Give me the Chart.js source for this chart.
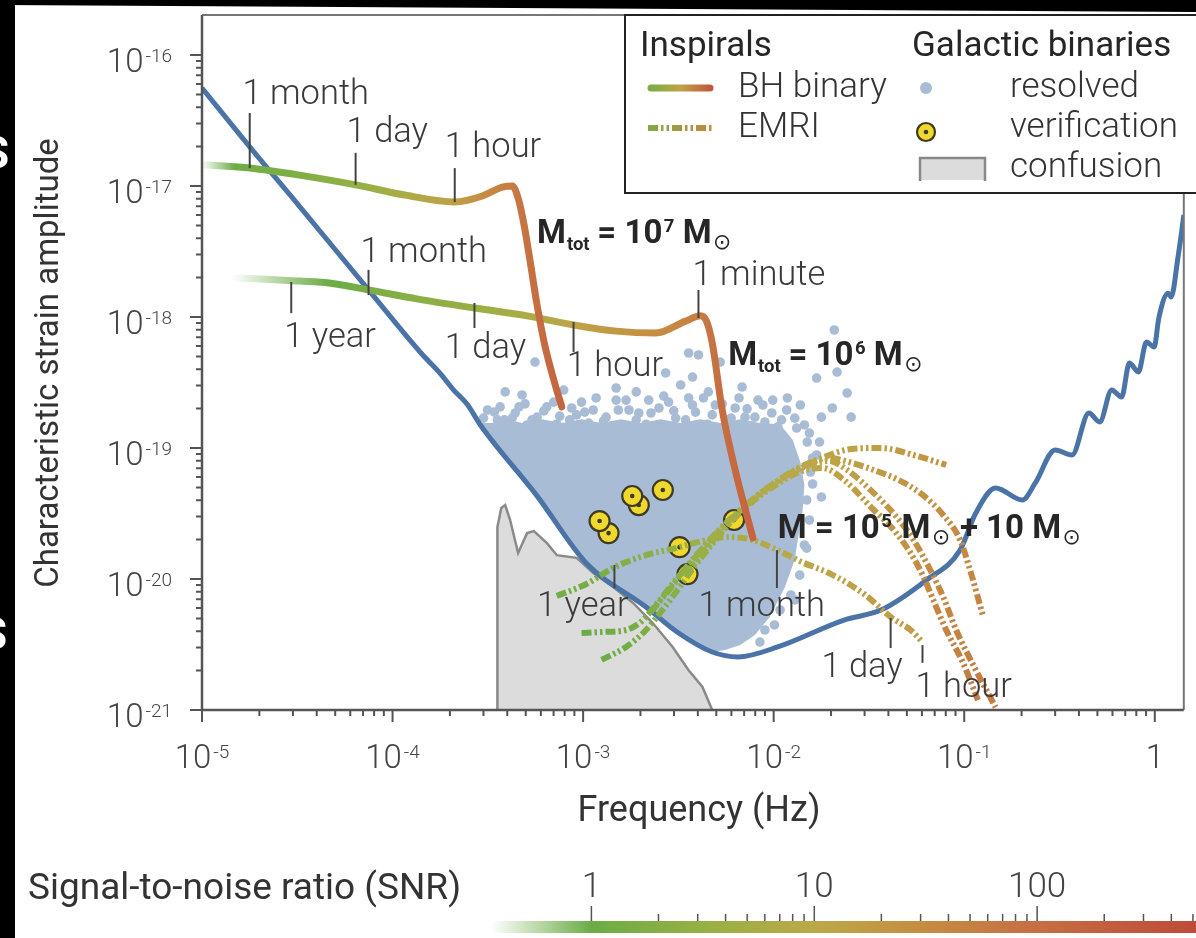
<!DOCTYPE html>
<html>
<head>
<meta charset="utf-8">
<style>
  html, body { margin: 0; padding: 0; background: #fff; }
  canvas { display: block; }
</style>
<script src="https://cdn.jsdelivr.net/npm/chart.js@4.4.0/dist/chart.umd.min.js"></script>
</head>
<body>
<canvas id="c" width="1196" height="938" style="width:1196px;height:938px"></canvas>
<script>
// ---- Instrument sensitivity curve (characteristic strain vs frequency) ----
const sensFreq = [1.00e-5, 1.78e-5, 3.24e-5, 7.48e-5, 1.41e-4, 1.79e-4, 2.07e-4, 2.48e-4, 2.89e-4, 5.73e-4,
  1.04e-3, 2.14e-3, 3.17e-3, 4.76e-3, 6.50e-3, 1.05e-2, 2.34e-2, 3.65e-2, 6.32e-2, 9.51e-2,
  0.115, 0.146, 0.202, 0.236, 0.300, 0.368, 0.451, 0.514, 0.594, 0.670,
  0.736, 0.820, 0.904, 0.993, 1.05, 1.175, 1.219, 1.324, 1.422];
const sensStrain = [5.60e-17, 1.99e-17, 7.03e-18, 1.61e-18, 5.31e-19, 3.67e-19, 2.82e-19, 2.13e-19, 1.50e-19, 4.31e-20,
  1.32e-20, 6.11e-21, 3.87e-21, 2.77e-21, 2.54e-21, 3.03e-21, 4.86e-21, 5.79e-21, 9.80e-21, 1.66e-20,
  3.19e-20, 4.95e-20, 4.01e-20, 5.41e-20, 9.66e-20, 8.85e-20, 1.85e-19, 1.58e-19, 2.77e-19, 2.45e-19,
  4.46e-19, 3.80e-19, 6.44e-19, 5.90e-19, 9.82e-19, 1.52e-18, 1.42e-18, 2.87e-18, 6.01e-18];

// ---- Massive black hole binary inspirals (accumulated SNR along track) ----
const bh7Freq = [1.04e-5, 1.49e-5, 1.78e-5, 3.24e-5, 6.40e-5, 1.16e-4, 2.12e-4, 2.96e-4, 3.77e-4, 4.25e-4,
  4.56e-4, 4.90e-4, 5.26e-4, 5.73e-4, 6.29e-4, 7.02e-4, 7.73e-4];
const bh7Strain = [1.45e-17, 1.40e-17, 1.37e-17, 1.21e-17, 1.02e-17, 8.53e-18, 7.55e-18, 8.39e-18, 9.82e-18, 1.00e-17,
  8.09e-18, 5.04e-18, 2.72e-18, 1.24e-18, 6.11e-19, 3.30e-19, 2.06e-19];
const bh7Snr = [0.4, 1.0, 1.2, 1.8, 3, 6, 14, 30, 50, 60, 70, 80, 90, 100, 120, 140, 150];

const bh6Freq = [1.43e-5, 2.05e-5, 3.24e-5, 4.64e-5, 7.48e-5, 1.36e-4, 2.69e-4, 5.08e-4, 8.91e-4, 1.49e-3,
  2.41e-3, 3.45e-3, 4.13e-3, 4.44e-3, 4.76e-3, 5.37e-3, 6.28e-3, 7.78e-3];
const bh6Strain = [1.99e-18, 1.95e-18, 1.88e-18, 1.82e-18, 1.61e-18, 1.37e-18, 1.17e-18, 1.02e-18, 8.69e-19, 7.80e-19,
  7.55e-19, 9.30e-19, 1.02e-18, 9.31e-19, 6.34e-19, 1.95e-19, 6.79e-20, 2.06e-20];
const bh6Snr = [0.35, 0.5, 0.75, 1.0, 1.5, 2.3, 3.5, 6, 12, 20, 30, 45, 60, 70, 85, 100, 125, 160];

// ---- Extreme mass ratio inspirals ----
const emri1Freq = [7.27e-4, 1.04e-3, 1.46e-3, 2.14e-3, 3.06e-3, 4.23e-3, 5.77e-3, 7.69e-3, 1.05e-2, 1.40e-2,
  2.00e-2, 2.98e-2, 4.11e-2, 5.23e-2, 6.04e-2];
const emri1Strain = [7.42e-21, 9.16e-21, 1.23e-20, 1.52e-20, 1.72e-20, 1.95e-20, 2.09e-20, 1.99e-20, 1.66e-20, 1.35e-20,
  1.09e-20, 7.68e-21, 5.13e-21, 4.08e-21, 3.30e-21];
const emri1Snr = [1.2, 1.4, 1.8, 2.3, 3, 4, 5, 6.5, 8, 10, 12, 14, 15, 16, 16.5];

const emri2Freq = [9.81e-4, 1.25e-3, 1.68e-3, 2.01e-3, 2.41e-3, 3.06e-3, 3.89e-3, 4.94e-3, 6.67e-3, 8.99e-3,
  1.29e-2, 1.84e-2, 2.55e-2, 3.65e-2, 5.42e-2, 8.04e-2];
const emri2Strain = [3.87e-21, 3.94e-21, 4.08e-21, 4.70e-21, 6.33e-21, 9.83e-21, 1.47e-20, 2.21e-20, 3.36e-20, 4.78e-20,
  6.79e-20, 8.54e-20, 9.83e-20, 1.00e-19, 8.84e-20, 7.42e-20];
const emri2Snr = [1.0, 1.1, 1.3, 1.5, 1.9, 2.5, 3.2, 4, 5.5, 7, 9, 11, 13, 16, 20, 24];

const emri3Freq = [1.25e-3, 1.68e-3, 2.09e-3, 2.56e-3, 3.13e-3, 3.89e-3, 4.82e-3, 6.05e-3, 7.97e-3, 1.08e-2,
  1.45e-2, 1.96e-2, 2.49e-2, 3.35e-2, 4.53e-2, 5.96e-2, 7.76e-2, 9.51e-2, 0.1085, 0.125];
const emri3Strain = [2.41e-21, 3.03e-21, 3.94e-21, 5.60e-21, 8.24e-21, 1.28e-20, 1.88e-20, 2.82e-20, 4.15e-20, 5.70e-20,
  7.29e-20, 8.39e-20, 7.82e-20, 6.79e-20, 5.70e-20, 4.46e-20, 3.08e-20, 1.99e-20, 1.11e-20, 5.31e-21];
const emri3Snr = [1.0, 1.2, 1.5, 1.9, 2.4, 3, 3.8, 5, 6.5, 8, 10, 12, 14, 17, 21, 25, 30, 35, 40, 45];

const emri4Freq = [2.27e-3, 2.88e-3, 3.66e-3, 4.65e-3, 6.13e-3, 8.17e-3, 1.11e-2, 1.49e-2, 1.96e-2, 2.43e-2,
  3.35e-2, 4.42e-2, 5.42e-2, 6.64e-2, 7.76e-2, 9.07e-2, 0.115, 0.146];
const emri4Strain = [5.60e-21, 8.53e-21, 1.35e-20, 1.99e-20, 2.97e-20, 4.30e-20, 5.90e-20, 7.29e-20, 7.96e-20, 6.79e-20,
  4.53e-20, 2.97e-20, 1.99e-20, 1.17e-20, 7.29e-21, 4.08e-21, 2.02e-21, 1.05e-21];
const emri4Snr = [1.8, 2.3, 2.9, 3.6, 4.8, 6.2, 8, 10, 12, 14, 18, 23, 28, 34, 40, 46, 54, 60];

const emri5Freq = [3.45e-3, 4.38e-3, 5.70e-3, 7.51e-3, 1.01e-2, 1.37e-2, 1.80e-2, 2.34e-2, 3.24e-2, 4.26e-2,
  5.23e-2, 6.11e-2, 6.88e-2, 8.04e-2, 9.86e-2, 0.118];
const emri5Strain = [1.07e-20, 1.66e-20, 2.54e-20, 3.74e-20, 5.13e-20, 6.56e-20, 7.04e-20, 5.70e-20, 3.54e-20, 2.37e-20,
  1.58e-20, 1.04e-20, 6.92e-21, 4.08e-21, 2.29e-21, 1.19e-21];
const emri5Snr = [2.5, 3.2, 4, 5.3, 7, 9, 11.5, 14, 18, 23, 28, 34, 40, 47, 54, 60];

// ---- Galactic binaries ----
// dense body of resolved binaries (outline of the populated region)
const cloudFreq = [2.79e-4, 3.34e-4, 4.00e-4, 4.78e-4, 6.08e-4, 7.72e-4, 9.81e-4, 1.25e-3, 1.58e-3, 2.01e-3,
  2.56e-3, 3.25e-3, 4.13e-3, 5.25e-3, 6.67e-3, 8.47e-3, 1.08e-2, 1.26e-2, 1.38e-2, 1.45e-2,
  1.42e-2, 1.35e-2, 1.29e-2, 1.14e-2, 9.54e-3, 7.97e-3, 6.67e-3, 5.57e-3, 4.76e-3, 3.17e-3,
  2.14e-3, 1.04e-3, 5.73e-4, 2.89e-4];
const cloudStrain = [1.55e-19, 1.55e-19, 1.66e-19, 1.55e-19, 1.66e-19, 1.55e-19, 1.66e-19, 1.55e-19, 1.66e-19, 1.55e-19,
  1.66e-19, 1.55e-19, 1.66e-19, 1.55e-19, 1.66e-19, 1.55e-19, 1.52e-19, 1.15e-19, 7.82e-20, 5.22e-20,
  3.36e-20, 2.17e-20, 1.40e-20, 8.53e-21, 5.13e-21, 3.73e-21, 3.13e-21, 2.87e-21, 2.77e-21, 3.87e-21,
  6.11e-21, 1.32e-20, 4.31e-20, 1.50e-19];
// individual resolved binaries around the edge of the populated region
const dotFreq = [5.59e-4, 3.90e-4, 3.15e-4, 3.67e-4, 4.61e-4, 7.91e-4, 6.45e-4, 1.49e-3, 2.71e-3, 2.21e-3,
  2.81e-3, 3.58e-3, 4.03e-3, 3.75e-3, 3.25e-3, 3.58e-3, 4.54e-3, 5.24e-3, 6.83e-3, 8.27e-3,
  1.18e-2, 1.68e-2, 2.08e-2, 2.15e-2, 2.03e-2, 1.78e-2, 9.77e-3, 7.07e-3, 1.13e-3, 1.32e-3,
  1.74e-3, 8.50e-4, 5.73e-4, 2.43e-2, 2.55e-2, 3.55e-4, 4.24e-4, 5.08e-4, 7.27e-4, 9.24e-4,
  1.07e-3, 1.41e-3, 1.90e-3, 2.27e-3, 2.47e-3, 3.06e-3, 3.89e-3, 4.49e-3, 5.70e-3, 6.28e-3,
  7.69e-3, 8.99e-3, 1.10e-2, 1.32e-2, 1.50e-2, 1.60e-2, 1.56e-2, 1.74e-2, 1.78e-2, 1.60e-2,
  1.54e-2, 1.49e-2, 1.29e-2, 1.01e-2, 8.47e-3, 1.49e-3, 4.78e-4, 9.81e-4, 4.94e-3, 1.90e-3,
  3.00e-4, 3.42e-4, 3.86e-4, 4.40e-4, 4.96e-4, 5.39e-4, 6.22e-4, 7.02e-4, 7.54e-4, 8.71e-4,
  1.02e-3, 1.17e-3, 1.28e-3, 1.53e-3, 1.68e-3, 1.96e-3, 2.14e-3, 2.50e-3, 2.65e-3, 2.99e-3,
  3.45e-3, 3.75e-3, 4.28e-3, 4.76e-3, 5.37e-3, 5.98e-3, 6.58e-3, 7.25e-3, 7.97e-3, 8.78e-3,
  9.89e-3, 1.05e-2, 1.17e-2, 1.29e-2, 1.38e-2, 1.45e-2, 1.54e-2, 1.68e-2, 1.49e-2, 1.45e-2,
  1.37e-2, 1.23e-2, 1.08e-2, 8.99e-3];
const dotStrain = [4.53e-19, 2.68e-19, 1.95e-19, 2.06e-19, 2.06e-19, 2.77e-19, 2.06e-19, 2.87e-19, 3.74e-19, 2.32e-19,
  2.24e-19, 5.31e-19, 5.13e-19, 3.48e-19, 3.03e-19, 2.41e-19, 2.68e-19, 4.53e-19, 2.92e-19, 2.32e-19,
  2.41e-19, 3.42e-19, 7.96e-19, 3.80e-19, 2.02e-19, 1.72e-19, 1.85e-19, 1.72e-19, 1.95e-19, 1.72e-19,
  1.95e-19, 1.64e-19, 1.72e-19, 2.63e-19, 1.72e-19, 1.64e-19, 1.69e-19, 1.50e-19, 1.52e-19, 1.79e-19,
  1.55e-19, 1.47e-19, 1.64e-19, 1.85e-19, 1.47e-19, 1.69e-19, 1.88e-19, 1.52e-19, 1.64e-19, 2.02e-19,
  1.47e-19, 1.58e-19, 1.64e-19, 1.42e-19, 1.11e-19, 8.39e-20, 6.56e-20, 1.11e-19, 4.23e-20, 5.31e-20,
  2.82e-20, 1.72e-20, 6.92e-21, 4.46e-21, 3.30e-21, 2.32e-19, 2.54e-19, 2.24e-19, 2.13e-19, 2.68e-19,
  1.69e-19, 1.88e-19, 1.64e-19, 1.85e-19, 2.17e-19, 1.64e-19, 1.92e-19, 2.24e-19, 1.75e-19, 2.02e-19,
  1.88e-19, 2.41e-19, 1.61e-19, 1.95e-19, 2.32e-19, 1.85e-19, 1.52e-19, 2.02e-19, 2.49e-19, 1.92e-19,
  1.64e-19, 2.13e-19, 2.41e-19, 1.79e-19, 2.17e-19, 1.69e-19, 2.41e-19, 1.99e-19, 1.72e-19, 2.13e-19,
  2.32e-19, 1.45e-19, 1.95e-19, 1.69e-19, 2.13e-19, 1.50e-19, 1.30e-19, 8.84e-20, 4.01e-20, 1.82e-20,
  1.07e-20, 7.55e-21, 5.80e-21, 4.08e-21];
// verification binaries
const verFreq = [1.36e-3, 1.22e-3, 1.96e-3, 1.81e-3, 2.62e-3, 3.21e-3, 3.53e-3, 6.20e-3];
const verStrain = [2.24e-20, 2.77e-20, 3.67e-20, 4.30e-20, 4.78e-20, 1.75e-20, 1.09e-20, 2.82e-20];
// unresolved confusion foreground
const confFreq = [3.55e-4, 3.55e-4, 3.72e-4, 3.90e-4, 4.14e-4, 4.56e-4, 5.08e-4, 5.52e-4, 6.46e-4, 7.28e-4,
  9.25e-4, 1.13e-3, 1.44e-3, 1.83e-3, 2.32e-3, 2.95e-3, 3.57e-3, 4.23e-3, 4.76e-3];
const confStrain = [1e-21, 2.49e-20, 3.48e-20, 3.67e-20, 2.82e-20, 1.58e-20, 2.24e-20, 2.32e-20, 1.88e-20, 1.52e-20,
  1.45e-20, 1.11e-20, 8.69e-21, 6.56e-21, 4.61e-21, 3.03e-21, 2.02e-21, 1.50e-21, 1e-21];

// ---- Axis ticks ----
const xDecades = [1e-5, 1e-4, 1e-3, 1e-2, 1e-1, 1];
const xTickBase = ['10', '10', '10', '10', '10', '1'];
const xTickExp = ['-5', '-4', '-3', '-2', '-1', ''];
const yDecades = [1e-21, 1e-20, 1e-19, 1e-18, 1e-17, 1e-16];
const yTickExp = ['-21', '-20', '-19', '-18', '-17', '-16'];
const snrMajor = [1, 10, 100];
const snrMajorLabels = ['1', '10', '100'];

// ---- Time-to-merger marks along tracks ----
const timeMarks = [
  { f: 1.78e-5, h0: 3.61e-17, h1: 1.37e-17, text: '1 month', tf: 1.63e-5, th: 4.95e-17 },
  { f: 6.40e-5, h0: 1.79e-17, h1: 1.02e-17, text: '1 day', tf: 5.74e-5, th: 2.54e-17 },
  { f: 2.12e-4, h0: 1.37e-17, h1: 7.55e-18, text: '1 hour', tf: 1.88e-4, th: 1.95e-17 },
  { f: 2.94e-5, h0: 1.85e-18, h1: 1.07e-18, text: '1 year', tf: 2.70e-5, th: 6.92e-19 },
  { f: 7.48e-5, h0: 2.29e-18, h1: 1.47e-18, text: '1 month', tf: 6.79e-5, th: 3.08e-18 },
  { f: 2.69e-4, h0: 1.28e-18, h1: 8.24e-19, text: '1 day', tf: 1.88e-4, th: 5.70e-19 },
  { f: 8.91e-4, h0: 9.16e-19, h1: 5.41e-19, text: '1 hour', tf: 8.21e-4, th: 4.15e-19 },
  { f: 4.03e-3, h0: 1.61e-18, h1: 9.82e-19, text: '1 minute', tf: 3.75e-3, th: 2.06e-18 },
  { f: 1.46e-3, h0: 1.28e-20, h1: 8.53e-21, text: '1 year', tf: 5.73e-4, th: 6.11e-21 },
  { f: 1.04e-2, h0: 1.66e-20, h1: 8.53e-21, text: '1 month', tf: 4.03e-3, th: 6.11e-21 },
  { f: 4.11e-2, h0: 5.04e-21, h1: 2.97e-21, text: '1 day', tf: 1.78e-2, th: 2.09e-21 },
  { f: 6.04e-2, h0: 3.13e-21, h1: 2.29e-21, text: '1 hour', tf: 5.55e-2, th: 1.47e-21 }
];
// mass labels: [text, role] runs
const massLabels = [
  { f: 5.73e-4, h: 4.46e-18, runs: [['M', 'b'], ['tot', 'sub'], ['\u2009= 10', 'b'], ['7', 'sup'], ['\u2009M', 'b'], ['\u2299', 'sun']] },
  { f: 5.77e-3, h: 5.22e-19, runs: [['M', 'b'], ['tot', 'sub'], ['\u2009= 10', 'b'], ['6', 'sup'], ['\u2009M', 'b'], ['\u2299', 'sun']] },
  { f: 1.05e-2, h: 2.49e-20, runs: [['M = 10', 'b'], ['5', 'sup'], [' M', 'b'], ['\u2299', 'sun'], [' + 10 M', 'b'], ['\u2299', 'sun']] }
];

// ---- Styling ----
const FAM = 'Roboto, "DejaVu Sans", sans-serif';
const font = (w, s, fam) => `${w} ${s}px ${fam || FAM}`;
const TEXT = '#3a3a3a';
const CLOUD = '#a9bcd6';
const SENS = '#4a74a8';

// SNR colour map (log10 SNR -> rgba)
const snrStops = [
  [-0.45, [108, 172, 70, 0]],
  [0, [108, 172, 70, 1]],
  [0.5, [150, 176, 68, 1]],
  [1, [188, 168, 72, 1]],
  [1.5, [198, 140, 66, 1]],
  [2, [198, 110, 66, 1]],
  [2.7, [190, 75, 58, 1]]
];
const rgba = c => `rgba(${Math.round(c[0])},${Math.round(c[1])},${Math.round(c[2])},${c[3].toFixed(3)})`;
function snrColor(s) {
  const l = Math.log10(s);
  if (l <= snrStops[0][0]) return rgba(snrStops[0][1]);
  for (let i = 1; i < snrStops.length; i++) {
    if (l <= snrStops[i][0]) {
      const [l0, c0] = snrStops[i - 1];
      const [l1, c1] = snrStops[i];
      const t = (l - l0) / (l1 - l0);
      return rgba(c0.map((v, k) => v + (c1[k] - v) * t));
    }
  }
  return rgba(snrStops[snrStops.length - 1][1]);
}

// horizontal gradient that follows the SNR accumulated along a track
function trackGradient(chart, fs, snr) {
  const xs = chart.scales && chart.scales.x;
  if (!xs || !chart.chartArea) return '#999';
  const x0 = xs.getPixelForValue(fs[0]);
  const x1 = xs.getPixelForValue(fs[fs.length - 1]);
  const g = chart.ctx.createLinearGradient(x0, 0, x1, 0);
  fs.forEach((f, i) => {
    const t = (xs.getPixelForValue(f) - x0) / (x1 - x0);
    g.addColorStop(Math.min(1, Math.max(0, t)), snrColor(snr[i]));
  });
  return g;
}

const pts = (fs, hs) => fs.map((f, i) => ({ x: f, y: hs[i] }));

function bhTrack(fs, hs, snr, order) {
  return {
    data: pts(fs, hs), order,
    borderColor: c => trackGradient(c.chart, fs, snr),
    borderWidth: 7, borderCapStyle: 'round', borderJoinStyle: 'round',
    cubicInterpolationMode: 'monotone', pointRadius: 0, fill: false
  };
}
function emriTrack(fs, hs, snr, order) {
  return {
    data: pts(fs, hs), order,
    borderColor: c => trackGradient(c.chart, fs, snr),
    borderWidth: 6, borderCapStyle: 'butt', borderDash: [10, 3, 2.5, 3, 2.5, 3],
    cubicInterpolationMode: 'monotone', pointRadius: 0, fill: false
  };
}

// draw a run of text pieces with sub/superscripts; y is the baseline
function drawRuns(ctx, runs, x, y, size) {
  let cx = x;
  ctx.textAlign = 'left';
  ctx.textBaseline = 'alphabetic';
  for (const [t, role] of runs) {
    let f, dy = 0, pad = 0;
    if (role === 'b') f = font(700, size);
    else if (role === 'sub') { f = font(700, size * 0.56); dy = size * 0.2; pad = 1; }
    else if (role === 'sup') { f = font(700, size * 0.56); dy = -size * 0.33; pad = 1.5; }
    else { f = font(400, size * 0.66, '"DejaVu Sans", sans-serif'); dy = size * 0.18; pad = 1.5; }
    ctx.font = f;
    ctx.fillText(t, cx + pad, y + dy);
    cx += ctx.measureText(t).width + pad * 2;
  }
}

// "10" with a raised exponent; anchor: 'right' or 'center'
function drawPow(ctx, base, exp, x, baseline, anchor) {
  const bs = 33, es = 19;
  ctx.font = font(300, bs);
  const wb = ctx.measureText(base).width;
  ctx.font = font(300, es);
  const we = exp ? ctx.measureText(exp).width + 2 : 0;
  const total = wb + we;
  const x0 = anchor === 'right' ? x - total : x - total / 2;
  ctx.textAlign = 'left';
  ctx.textBaseline = 'alphabetic';
  ctx.font = font(300, bs);
  ctx.fillText(base, x0, baseline);
  if (exp) {
    ctx.font = font(300, es);
    ctx.fillText(exp, x0 + wb + 2, baseline - 10);
  }
}

const decorations = {
  id: 'decorations',
  afterDatasetsDraw(chart) {
    const { ctx, chartArea: a, scales } = chart;
    const x = scales.x, y = scales.y;
    const px = v => x.getPixelForValue(v);
    const py = v => y.getPixelForValue(v);
    ctx.save();

    // time-to-merger marks
    ctx.strokeStyle = '#444';
    ctx.lineWidth = 2;
    ctx.fillStyle = TEXT;
    ctx.font = font(300, 34.5);
    ctx.textAlign = 'left';
    ctx.textBaseline = 'middle';
    for (const m of timeMarks) {
      ctx.beginPath();
      ctx.moveTo(px(m.f), py(m.h0));
      ctx.lineTo(px(m.f), py(m.h1));
      ctx.stroke();
      ctx.fillText(m.text, px(m.tf), py(m.th));
    }

    // mass labels
    ctx.fillStyle = '#262626';
    for (const m of massLabels) drawRuns(ctx, m.runs, px(m.f), py(m.h) + 11, 33);

    // axes and frame
    ctx.strokeStyle = '#777';
    ctx.lineWidth = 2;
    ctx.beginPath();
    ctx.moveTo(a.left, a.top); ctx.lineTo(a.right, a.top); ctx.lineTo(a.right, a.bottom);
    ctx.stroke();
    ctx.strokeStyle = '#555';
    ctx.lineWidth = 2.5;
    ctx.beginPath();
    ctx.moveTo(a.left, a.top); ctx.lineTo(a.left, a.bottom); ctx.lineTo(a.right, a.bottom);
    ctx.stroke();

    // ticks
    ctx.lineWidth = 2;
    ctx.beginPath();
    for (const d of yDecades) {
      const yy = py(d);
      ctx.moveTo(a.left - 12, yy); ctx.lineTo(a.left, yy);
      for (let k = 2; k <= 9; k++) {
        const v = d * k;
        if (v > y.max * 0.99) break;
        const ym = py(v);
        ctx.moveTo(a.left - 6, ym); ctx.lineTo(a.left, ym);
      }
    }
    for (const d of xDecades) {
      const xx = px(d);
      ctx.moveTo(xx, a.bottom); ctx.lineTo(xx, a.bottom + 12);
      for (let k = 2; k <= 9; k++) {
        const v = d * k;
        if (v > x.max) break;
        const xm = px(v);
        ctx.moveTo(xm, a.bottom); ctx.lineTo(xm, a.bottom + 6);
      }
    }
    ctx.stroke();

    // tick labels
    ctx.fillStyle = '#444';
    yDecades.forEach((d, i) => drawPow(ctx, '10', yTickExp[i], a.left - 30, py(d) + 17, 'right'));
    xDecades.forEach((d, i) => drawPow(ctx, xTickBase[i], xTickExp[i], px(d), a.bottom + 58, 'center'));

    // axis titles
    ctx.fillStyle = '#333';
    ctx.textAlign = 'center';
    ctx.textBaseline = 'middle';
    ctx.font = font(400, 36);
    ctx.fillText('Frequency (Hz)', 699, a.bottom + 102);
    ctx.font = font(400, 33);
    ctx.save();
    ctx.translate(50, 363);
    ctx.rotate(-Math.PI / 2);
    ctx.fillText('Characteristic strain amplitude', 0, 0);
    ctx.restore();

    ctx.restore();
  },
  afterDraw(chart) {
    const { ctx, scales } = chart;
    const s = scales.snr;
    const sx = v => s.getPixelForValue(v);
    ctx.save();

    // ---- SNR colour bar ----
    const barTop = 921, barH = 12;
    const sa = 0.36;
    const xa = sx(sa), xb = chart.width;
    const g = ctx.createLinearGradient(xa, 0, xb, 0);
    g.addColorStop(0, snrColor(sa));
    for (const [l] of snrStops) {
      const t = (sx(Math.pow(10, l)) - xa) / (xb - xa);
      if (t > 0 && t < 1) g.addColorStop(t, snrColor(Math.pow(10, l)));
    }
    g.addColorStop(1, snrColor(Math.pow(10, 2.7)));
    ctx.fillStyle = g;
    ctx.fillRect(xa, barTop, xb - xa, barH);
    ctx.strokeStyle = '#555';
    ctx.lineWidth = 1.5;
    ctx.beginPath();
    for (const d of snrMajor) {
      ctx.moveTo(sx(d), barTop - 15); ctx.lineTo(sx(d), barTop);
      for (let k = 2; k <= 9; k++) {
        const xm = sx(d * k);
        if (xm > chart.width) break;
        ctx.moveTo(xm, barTop - 7); ctx.lineTo(xm, barTop);
      }
    }
    ctx.stroke();
    ctx.fillStyle = '#444';
    ctx.font = font(300, 35);
    ctx.textAlign = 'center';
    ctx.textBaseline = 'middle';
    snrMajor.forEach((d, i) => ctx.fillText(snrMajorLabels[i], sx(d), 888));
    ctx.fillStyle = '#333';
    ctx.font = font(400, 37);
    ctx.textAlign = 'left';
    ctx.fillText('Signal-to-noise ratio (SNR)', 28, 890);

    // ---- legend ----
    const L = { x: 625, y: 15, w: 600, h: 178 };
    ctx.fillStyle = '#fff';
    ctx.fillRect(L.x, L.y, L.w, L.h);
    ctx.strokeStyle = '#222';
    ctx.lineWidth = 2;
    ctx.strokeRect(L.x, L.y, L.w, L.h);

    ctx.fillStyle = '#262626';
    ctx.textBaseline = 'middle';
    ctx.textAlign = 'left';
    ctx.font = font(400, 35);
    ctx.fillText('Inspirals', 640, 47);
    ctx.fillText('Galactic binaries', 912, 47);
    ctx.fillStyle = '#333';
    ctx.font = font(300, 35);
    ctx.fillText('BH binary', 738, 88);
    ctx.fillText('EMRI', 738, 128);
    ctx.fillText('resolved', 1010, 88);
    ctx.fillText('verification', 1010, 128);
    ctx.fillText('confusion', 1010, 168);

    // BH sample
    let lg = ctx.createLinearGradient(650, 0, 711, 0);
    lg.addColorStop(0, snrColor(1.5)); lg.addColorStop(0.5, snrColor(12)); lg.addColorStop(1, snrColor(300));
    ctx.strokeStyle = lg;
    ctx.lineWidth = 7;
    ctx.lineCap = 'round';
    ctx.beginPath(); ctx.moveTo(651, 88); ctx.lineTo(710, 88); ctx.stroke();
    // EMRI sample
    lg = ctx.createLinearGradient(648, 0, 713, 0);
    lg.addColorStop(0, snrColor(1.5)); lg.addColorStop(1, snrColor(40));
    ctx.strokeStyle = lg;
    ctx.lineWidth = 6;
    ctx.lineCap = 'butt';
    ctx.setLineDash([10, 3, 2.5, 3, 2.5, 3]);
    ctx.beginPath(); ctx.moveTo(648, 128); ctx.lineTo(713, 128); ctx.stroke();
    ctx.setLineDash([]);
    // resolved sample
    ctx.fillStyle = CLOUD;
    ctx.beginPath(); ctx.arc(926, 88, 6, 0, Math.PI * 2); ctx.fill();
    // verification sample
    ctx.fillStyle = '#f1d82c';
    ctx.strokeStyle = '#3d3a26';
    ctx.lineWidth = 2.2;
    ctx.beginPath(); ctx.arc(926, 132, 9, 0, Math.PI * 2); ctx.fill(); ctx.stroke();
    ctx.fillStyle = '#3a3a2a';
    ctx.beginPath(); ctx.arc(926, 132, 2.3, 0, Math.PI * 2); ctx.fill();
    // confusion sample
    ctx.fillStyle = '#dcdcdc';
    ctx.fillRect(920, 158, 65, 22);
    ctx.strokeStyle = '#888';
    ctx.lineWidth = 2.5;
    ctx.beginPath(); ctx.moveTo(920, 181); ctx.lineTo(920, 158); ctx.lineTo(985, 158); ctx.lineTo(985, 181); ctx.stroke();

    // ---- dark page edges ----
    ctx.fillStyle = '#000';
    ctx.beginPath();
    ctx.moveTo(0, 0); ctx.lineTo(chart.width, 0); ctx.lineTo(chart.width, 12); ctx.lineTo(0, 5);
    ctx.closePath();
    ctx.fill();
    ctx.fillRect(0, 0, 15, chart.height);
    ctx.save();
    ctx.beginPath(); ctx.rect(0, 0, 15, chart.height); ctx.clip();
    ctx.fillStyle = '#fff';
    ctx.font = font(700, 44);
    ctx.textAlign = 'right';
    ctx.textBaseline = 'middle';
    ctx.fillText('S', 9, 157);
    ctx.fillText('S', 7, 638);
    ctx.restore();

    ctx.restore();
  }
};

new Chart(document.getElementById('c'), {
  type: 'line',
  data: {
    datasets: [
      bhTrack(bh7Freq, bh7Strain, bh7Snr, 0),
      bhTrack(bh6Freq, bh6Strain, bh6Snr, 1),
      emriTrack(emri1Freq, emri1Strain, emri1Snr, 2),
      emriTrack(emri2Freq, emri2Strain, emri2Snr, 3),
      emriTrack(emri3Freq, emri3Strain, emri3Snr, 4),
      emriTrack(emri4Freq, emri4Strain, emri4Snr, 5),
      emriTrack(emri5Freq, emri5Strain, emri5Snr, 6),
      { data: pts(verFreq, verStrain), order: 7, showLine: false,
        pointRadius: 2.3, pointBackgroundColor: '#3a3a2a', pointBorderWidth: 0 },
      { data: pts(verFreq, verStrain), order: 8, showLine: false,
        pointRadius: 10, pointBackgroundColor: '#f1d82c', pointBorderColor: '#3d3a26', pointBorderWidth: 2.2 },
      { data: pts(sensFreq, sensStrain), order: 9, borderColor: SENS, borderWidth: 5,
        borderJoinStyle: 'round', cubicInterpolationMode: 'monotone', pointRadius: 0, fill: false },
      { data: pts(confFreq, confStrain), order: 10, borderColor: '#8a8a8a', borderWidth: 2.5,
        backgroundColor: '#dcdcdc', fill: 'start', tension: 0, pointRadius: 0 },
      { data: pts(dotFreq, dotStrain), order: 11, showLine: false,
        pointRadius: 4.8, pointBackgroundColor: CLOUD, pointBorderWidth: 0 },
      { data: pts(cloudFreq, cloudStrain), order: 12, borderWidth: 0, borderColor: 'rgba(0,0,0,0)',
        backgroundColor: CLOUD, fill: 'shape', tension: 0, pointRadius: 0 }
    ]
  },
  options: {
    responsive: false,
    animation: false,
    events: [],
    layout: { padding: { left: 202, top: 15, right: 3, bottom: 228 } },
    scales: {
      x: { type: 'logarithmic', min: 1e-5, max: 1.42, display: false },
      y: { type: 'logarithmic', min: 1e-21, max: 2.02e-16, display: false },
      snr: { type: 'logarithmic', axis: 'x', position: 'bottom', min: 0.0179, max: 455, display: false }
    },
    plugins: { legend: { display: false }, tooltip: { enabled: false } }
  },
  plugins: [decorations]
});
</script>
</body>
</html>
